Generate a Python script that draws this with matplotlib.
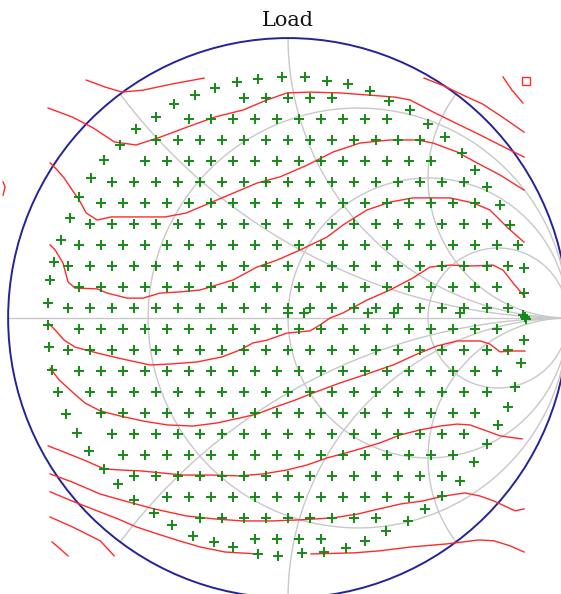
import numpy as np
import matplotlib.pyplot as plt
from matplotlib.patches import Circle

# Smith chart grid values
r_circles = [1 / 3, 1, 3]
x_arcs = [0.5, 1, 2, -0.5, -1, -2]

# measured load points (reflection coefficient)
ring_re = [0.846, 0.843, 0.843, 0.821, 0.793, 0.757, 0.711, 0.668, 0.621, 0.561,
           0.500, 0.436, 0.361, 0.293, 0.214, 0.139, 0.061, -0.021, -0.107, -0.182,
           -0.261, -0.332, -0.407, -0.471, -0.543, -0.600, -0.657, -0.704, -0.746, -0.779,
           -0.811, -0.836, -0.850, -0.857, -0.857, -0.854, -0.843, -0.821, -0.793, -0.754,
           -0.711, -0.657, -0.607, -0.550, -0.479, -0.414, -0.339, -0.264, -0.196, -0.107,
           -0.036, 0.050, 0.129, 0.207, 0.275, 0.350, 0.429, 0.489, 0.550, 0.614,
           0.664, 0.711, 0.750, 0.786, 0.811, 0.832, 0.843]
ring_im = [0.004, 0.089, 0.179, 0.261, 0.332, 0.404, 0.468, 0.529, 0.589, 0.646,
           0.693, 0.743, 0.775, 0.811, 0.836, 0.846, 0.861, 0.861, 0.854, 0.843,
           0.821, 0.796, 0.764, 0.718, 0.675, 0.618, 0.564, 0.500, 0.432, 0.357,
           0.279, 0.200, 0.136, 0.054, -0.025, -0.104, -0.186, -0.264, -0.343, -0.411,
           -0.475, -0.539, -0.593, -0.650, -0.696, -0.739, -0.779, -0.800, -0.818, -0.843,
           -0.850, -0.839, -0.836, -0.821, -0.796, -0.761, -0.725, -0.682, -0.636, -0.582,
           -0.514, -0.450, -0.382, -0.318, -0.246, -0.161, -0.079]

row_im = [0.786, 0.711, 0.636, 0.561, 0.486, 0.411, 0.336, 0.261, 0.186, 0.111, 0.036,
          -0.039, -0.114, -0.189, -0.264, -0.339, -0.414, -0.489, -0.564, -0.639, -0.714, -0.789]
row_re = [
    [-0.158, -0.079, 0.0, 0.079, 0.158],
    [-0.354, -0.276, -0.197, -0.118, -0.039, 0.039, 0.118, 0.197, 0.276, 0.354],
    [-0.472, -0.394, -0.315, -0.236, -0.158, -0.079, 0.0, 0.079, 0.158, 0.236, 0.315, 0.394, 0.472],
    [-0.512, -0.433, -0.354, -0.276, -0.197, -0.118, -0.039, 0.039, 0.118, 0.197, 0.276, 0.354,
     0.433, 0.512],
    [-0.630, -0.551, -0.472, -0.394, -0.315, -0.236, -0.158, -0.079, 0.0, 0.079, 0.158, 0.236,
     0.315, 0.394, 0.472, 0.551, 0.630],
    [-0.669, -0.591, -0.512, -0.433, -0.354, -0.276, -0.197, -0.118, -0.039, 0.039, 0.118, 0.197,
     0.276, 0.354, 0.433, 0.512, 0.591, 0.669],
    [-0.709, -0.630, -0.551, -0.472, -0.394, -0.315, -0.236, -0.158, -0.079, 0.0, 0.079, 0.158,
     0.236, 0.315, 0.394, 0.472, 0.551, 0.630, 0.709],
    [-0.748, -0.669, -0.591, -0.512, -0.433, -0.354, -0.276, -0.197, -0.118, -0.039, 0.039, 0.118,
     0.197, 0.276, 0.354, 0.433, 0.512, 0.591, 0.669, 0.748],
    [-0.787, -0.709, -0.630, -0.551, -0.472, -0.394, -0.315, -0.236, -0.158, -0.079, 0.0, 0.079,
     0.158, 0.236, 0.315, 0.394, 0.472, 0.551, 0.630, 0.709, 0.787],
    [-0.748, -0.669, -0.591, -0.512, -0.433, -0.354, -0.276, -0.197, -0.118, -0.039, 0.039, 0.118,
     0.197, 0.276, 0.354, 0.433, 0.512, 0.591, 0.669, 0.748],
    [-0.787, -0.709, -0.630, -0.551, -0.472, -0.394, -0.315, -0.236, -0.158, -0.079, 0.0, 0.079,
     0.158, 0.236, 0.315, 0.394, 0.472, 0.551, 0.630, 0.709, 0.787],
    [-0.748, -0.669, -0.591, -0.512, -0.433, -0.354, -0.276, -0.197, -0.118, -0.039, 0.039, 0.118,
     0.197, 0.276, 0.354, 0.433, 0.512, 0.591, 0.669, 0.748],
    [-0.787, -0.709, -0.630, -0.551, -0.472, -0.394, -0.315, -0.236, -0.158, -0.079, 0.0, 0.079,
     0.158, 0.236, 0.315, 0.394, 0.472, 0.551, 0.630, 0.709, 0.787],
    [-0.748, -0.669, -0.591, -0.512, -0.433, -0.354, -0.276, -0.197, -0.118, -0.039, 0.039, 0.118,
     0.197, 0.276, 0.354, 0.433, 0.512, 0.591, 0.669, 0.748],
    [-0.709, -0.630, -0.551, -0.472, -0.394, -0.315, -0.236, -0.158, -0.079, 0.0, 0.079, 0.158,
     0.236, 0.315, 0.394, 0.472, 0.551, 0.630, 0.709],
    [-0.669, -0.591, -0.512, -0.433, -0.354, -0.276, -0.197, -0.118, -0.039, 0.039, 0.118, 0.197,
     0.276, 0.354, 0.433, 0.512, 0.591, 0.669],
    [-0.630, -0.551, -0.472, -0.394, -0.315, -0.236, -0.158, -0.079, 0.0, 0.079, 0.158, 0.236,
     0.315, 0.394, 0.472, 0.551, 0.630],
    [-0.591, -0.512, -0.433, -0.354, -0.276, -0.197, -0.118, -0.039, 0.039, 0.118, 0.197, 0.276,
     0.354, 0.433, 0.512, 0.591],
    [-0.551, -0.472, -0.394, -0.315, -0.236, -0.158, -0.079, 0.0, 0.079, 0.158, 0.236, 0.315,
     0.394, 0.472, 0.551],
    [-0.433, -0.354, -0.276, -0.197, -0.118, -0.039, 0.039, 0.118, 0.197, 0.276, 0.354, 0.433],
    [-0.315, -0.236, -0.158, -0.079, 0.0, 0.079, 0.158, 0.236, 0.315],
    [-0.118, -0.039, 0.039, 0.118],
]

# repeated points along the real axis
extra_re = [0.0, 0.057, 0.286, 0.379, 0.614, 0.839, 0.850]
extra_im = [0.018, 0.018, 0.018, 0.018, 0.018, 0.011, -0.004]

# optimum marker
opt_re, opt_im = 0.850, 0.846

# load-pull contours (re, im)
cont_a = ([-0.857, -0.771, -0.696, -0.621, -0.543, -0.457, -0.350, -0.261, -0.161, -0.075,
           -0.004, 0.079, 0.186, 0.293, 0.382, 0.436, 0.518, 0.614, 0.686, 0.757, 0.843],
          [0.750, 0.718, 0.679, 0.629, 0.618, 0.646, 0.686, 0.718, 0.743, 0.779,
           0.804, 0.807, 0.804, 0.796, 0.789, 0.779, 0.736, 0.689, 0.654, 0.618, 0.575])
cont_b = ([-0.850, -0.825, -0.800, -0.771, -0.746, -0.721, -0.682, -0.632, -0.568, -0.493,
           -0.439, -0.364, -0.279, -0.196, -0.111, -0.029, 0.068, 0.161, 0.257, 0.364,
           0.461, 0.518, 0.604, 0.675, 0.757, 0.843],
          [0.554, 0.529, 0.500, 0.457, 0.421, 0.375, 0.350, 0.361, 0.361, 0.361,
           0.361, 0.375, 0.411, 0.446, 0.482, 0.504, 0.546, 0.593, 0.625, 0.636,
           0.636, 0.625, 0.593, 0.554, 0.511, 0.457])
cont_c = ([-0.850, -0.832, -0.804, -0.786, -0.761, -0.682, -0.646, -0.575, -0.518, -0.457,
           -0.389, -0.314, -0.196, -0.111, -0.039, 0.043, 0.139, 0.196, 0.282, 0.364,
           0.446, 0.518, 0.579, 0.661, 0.721, 0.786, 0.843],
          [0.261, 0.243, 0.196, 0.129, 0.107, 0.104, 0.089, 0.071, 0.071, 0.089,
           0.093, 0.100, 0.136, 0.182, 0.207, 0.243, 0.289, 0.332, 0.386, 0.414,
           0.429, 0.429, 0.429, 0.411, 0.386, 0.321, 0.271])
cont_d = ([-0.857, -0.832, -0.800, -0.761, -0.682, -0.607, -0.493, -0.414, -0.325, -0.236,
           -0.171, -0.125, -0.075, -0.004, 0.079, 0.114, 0.150, 0.196, 0.282, 0.364,
           0.446, 0.507, 0.579, 0.661, 0.732, 0.768, 0.804, 0.846],
          [-0.018, -0.043, -0.079, -0.104, -0.125, -0.143, -0.168, -0.164, -0.157, -0.139,
           -0.114, -0.089, -0.079, -0.054, -0.046, -0.025, 0.000, 0.018, 0.064, 0.100,
           0.143, 0.182, 0.189, 0.186, 0.189, 0.171, 0.125, 0.075])
cont_e = ([-0.850, -0.818, -0.771, -0.725, -0.671, -0.600, -0.518, -0.432, -0.339, -0.254,
           -0.171, -0.111, -0.054, 0.018, 0.089, 0.186, 0.282, 0.375, 0.461, 0.532,
           0.604, 0.686, 0.721, 0.757, 0.804, 0.846],
          [-0.179, -0.221, -0.264, -0.304, -0.332, -0.350, -0.368, -0.382, -0.386, -0.375,
           -0.357, -0.343, -0.321, -0.296, -0.268, -0.232, -0.200, -0.168, -0.129, -0.100,
           -0.082, -0.082, -0.093, -0.121, -0.118, -0.118])
cont_f = ([-0.857, -0.800, -0.721, -0.657, -0.600, -0.529, -0.446, -0.375, -0.279, -0.171,
           -0.089, -0.004, 0.068, 0.139, 0.232, 0.329, 0.400, 0.471, 0.543, 0.604,
           0.650, 0.711, 0.757, 0.836],
          [-0.457, -0.479, -0.511, -0.539, -0.543, -0.546, -0.554, -0.561, -0.561, -0.564,
           -0.557, -0.543, -0.525, -0.500, -0.475, -0.446, -0.418, -0.400, -0.386, -0.379,
           -0.382, -0.404, -0.421, -0.432])
cont_g = ([-0.850, -0.771, -0.671, -0.582, -0.479, -0.364, -0.261, -0.161, -0.057, 0.046,
           0.161, 0.250, 0.325, 0.404, 0.479, 0.557, 0.632, 0.686, 0.736, 0.811, 0.843],
          [-0.557, -0.586, -0.629, -0.654, -0.682, -0.707, -0.718, -0.725, -0.725, -0.721,
           -0.714, -0.700, -0.682, -0.664, -0.654, -0.636, -0.625, -0.636, -0.654, -0.689, -0.682])
cont_h1 = ([-0.850, -0.771, -0.682, -0.607, -0.543, -0.468, -0.389, -0.314, -0.225, -0.107],
           [-0.621, -0.654, -0.689, -0.718, -0.746, -0.771, -0.796, -0.818, -0.836, -0.843])
cont_h2 = ([0.082, 0.236, 0.325, 0.439, 0.568, 0.682, 0.736, 0.793, 0.843],
           [-0.843, -0.839, -0.832, -0.818, -0.807, -0.793, -0.796, -0.814, -0.836])
cont_i1 = ([-0.850, -0.771, -0.671, -0.621], [-0.711, -0.746, -0.796, -0.850])
cont_i2 = ([-0.843, -0.814, -0.786], [-0.800, -0.825, -0.850])
cont_top_left = ([-0.721, -0.654, -0.593, -0.518, -0.414, -0.300],
                 [0.850, 0.825, 0.807, 0.814, 0.836, 0.857])
cont_top_right = ([0.486, 0.557, 0.632, 0.696, 0.771, 0.843],
                  [0.857, 0.829, 0.793, 0.764, 0.714, 0.664])
cont_corner = ([0.768, 0.800, 0.839], [0.861, 0.814, 0.768])
cont_edge = ([-1.018, -1.011, -1.018], [0.486, 0.468, 0.439])

contours = [cont_a, cont_b, cont_c, cont_d, cont_e, cont_f, cont_g, cont_h1, cont_h2,
            cont_i1, cont_i2, cont_top_left, cont_top_right, cont_corner, cont_edge]

GRID = '#c8c8c8'
BLUE = '#23239a'
RED = '#ff2a2a'
GREEN = '#168a16'


def gamma(z):
    return (z - 1) / (z + 1)


fig = plt.figure(figsize=(5.61, 5.94), dpi=100)
ax = fig.add_axes([0, 0, 1, 1])
ax.set_xlim(-1.029, 0.975)
ax.set_ylim(-0.986, 1.136)
ax.set_aspect('equal')
ax.axis('off')

# constant resistance circles and reactance arcs
sweep = np.concatenate([-np.logspace(4, -4, 800), [0], np.logspace(-4, 4, 800)])
for r in r_circles:
    g = gamma(r + 1j * sweep)
    ax.plot(g.real, g.imag, color=GRID, lw=1.0, zorder=1)

rs = np.concatenate([[0], np.logspace(-4, 4, 1600)])
for x in x_arcs:
    g = gamma(rs + 1j * x)
    ax.plot(g.real, g.imag, color=GRID, lw=1.0, zorder=1)

ax.plot([-1, 1], [0, 0], color=GRID, lw=1.0, zorder=1)

ax.add_patch(Circle((0, 0), 1, fill=False, ec=BLUE, lw=1.4, zorder=2))

for cre, cim in contours:
    ax.plot(cre, cim, color=RED, lw=1.0, zorder=3)

pts_re = list(ring_re) + extra_re
pts_im = list(ring_im) + extra_im
for yi, xs in zip(row_im, row_re):
    pts_re += xs
    pts_im += [yi] * len(xs)
ax.plot(pts_re, pts_im, ls='none', marker='+', ms=7.5, mew=1.4, color=GREEN, zorder=4)

ax.plot([opt_re], [opt_im], ls='none', marker='s', ms=6, mfc='none', mec=RED, mew=1.0, zorder=4)

ax.text(0, 1.064, 'Load', ha='center', va='center', fontsize=15,
        family=['DejaVu Serif'], color='#111111')

fig.savefig('out.png', dpi=100)
